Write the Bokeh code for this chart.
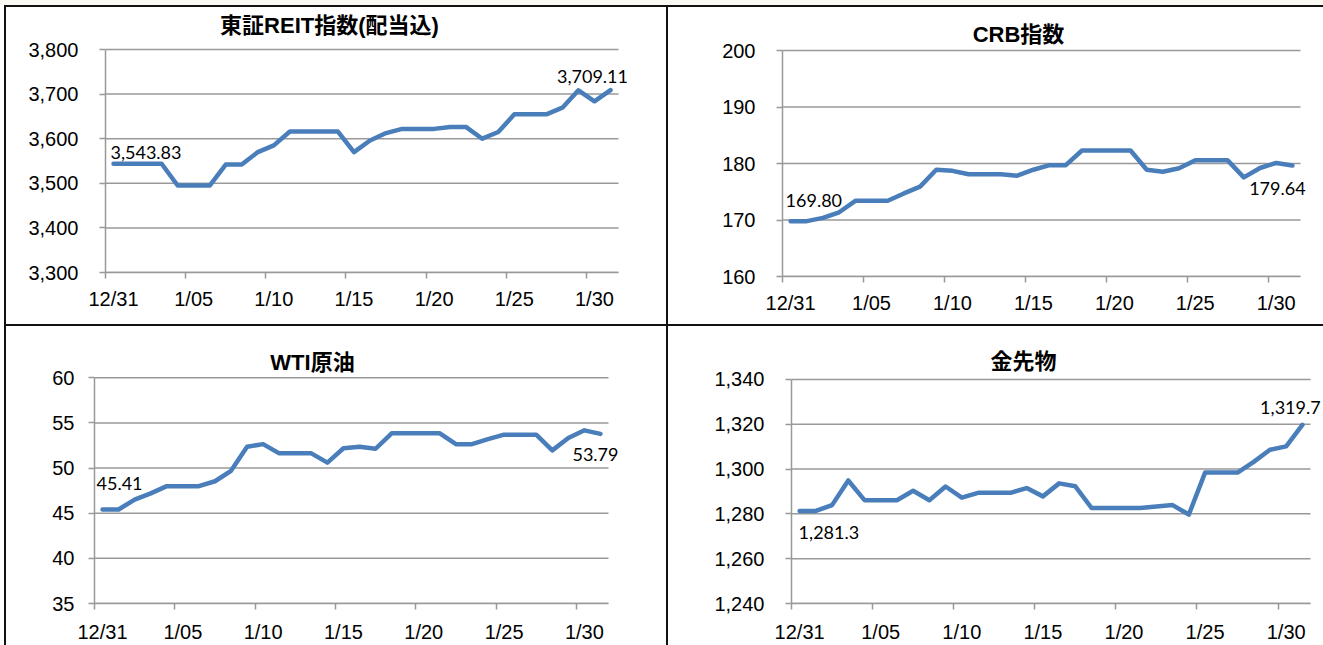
from bokeh.plotting import figure
from bokeh.models import Range1d, FixedTicker, NumeralTickFormatter, Label, Spacer
from bokeh.layouts import row, column
from bokeh.embed import file_html
from bokeh.resources import INLINE

# ---------------- data ----------------
dates = ["12/31", "1/01", "1/02", "1/03", "1/04", "1/05", "1/06", "1/07", "1/08", "1/09",
         "1/10", "1/11", "1/12", "1/13", "1/14", "1/15", "1/16", "1/17", "1/18", "1/19",
         "1/20", "1/21", "1/22", "1/23", "1/24", "1/25", "1/26", "1/27", "1/28", "1/29",
         "1/30", "1/31"]
x_tick_labels = ["12/31", "1/05", "1/10", "1/15", "1/20", "1/25", "1/30"]

reit = [3543.83, 3543.83, 3543.83, 3543.83, 3495.0, 3495.0, 3495.0, 3542.0, 3542.0, 3570.0,
        3585.0, 3616.0, 3616.0, 3616.0, 3616.0, 3570.0, 3596.0, 3612.6, 3622.0, 3622.0,
        3622.0, 3626.0, 3626.0, 3600.0, 3615.0, 3654.6, 3654.6, 3654.6, 3669.5, 3708.5,
        3683.8, 3709.11]
crb = [169.80, 169.80, 170.37, 171.37, 173.4, 173.4, 173.4, 174.7, 175.9, 178.9,
       178.7, 178.1, 178.1, 178.1, 177.85, 178.9, 179.7, 179.7, 182.3, 182.3,
       182.3, 182.3, 178.9, 178.55, 179.15, 180.56, 180.56, 180.56, 177.55, 179.2,
       180.1, 179.64]
wti = [45.41, 45.41, 46.5, 47.2, 48.0, 48.0, 48.0, 48.54, 49.7, 52.36,
       52.65, 51.63, 51.63, 51.63, 50.6, 52.2, 52.36, 52.14, 53.85, 53.85,
       53.85, 53.85, 52.65, 52.65, 53.2, 53.7, 53.7, 53.7, 51.96, 53.34,
       54.18, 53.79]
gold = [1281.3, 1281.3, 1283.9, 1294.9, 1286.1, 1286.1, 1286.1, 1290.3, 1286.1, 1292.2,
        1287.2, 1289.4, 1289.4, 1289.4, 1291.5, 1287.8, 1293.6, 1292.3, 1282.6, 1282.6,
        1282.6, 1282.6, 1283.3, 1283.9, 1279.7, 1298.4, 1298.4, 1298.4, 1303.2, 1308.6,
        1310.1, 1319.7]

reit_yticks = [3300, 3400, 3500, 3600, 3700, 3800]
crb_yticks = [160, 170, 180, 190, 200]
wti_yticks = [35, 40, 45, 50, 55, 60]
gold_yticks = [1240, 1260, 1280, 1300, 1320, 1340]

titles = ["東証REIT指数(配当込)", "CRB指数", "WTI原油", "金先物"]
first_labels = ["3,543.83", "169.80", "45.41", "1,281.3"]
last_labels = ["3,709.11", "179.64", "53.79", "1,319.7"]

# ---------------- styling ----------------
LINE = "#4a7ebb"
GRID = "#999999"
TICK_FONT = "Liberation Sans"
TITLE_FONT = "Liberation Sans, Noto Sans CJK JP"
LABEL_FONT = "Lato"

xs = list(range(len(dates)))
tick_pos = [dates.index(t) for t in x_tick_labels]
edge_pos = [t - 0.5 for t in tick_pos]
x_lo = xs[0] - 0.5
x_hi = xs[-1] + 0.5


def make_panel(title, vals, yticks, fmt, w, h, borders, title_pos, ystandoff, xstandoff,
               first_lab, last_lab, first_off, last_off):
    bl, br, bt, bb = borders
    # the frame runs on to the right edge so that the end labels are not cut;
    # the plotted span keeps the reference's width
    frame_w0 = w - bl - br
    frame_w1 = w - bl - 2
    x_end = x_lo + (x_hi - x_lo) * frame_w1 / frame_w0
    frame_h0 = h - bt - bb
    span = yticks[-1] - yticks[0]
    top_border = 2
    y_top = yticks[-1] + span / frame_h0 * (bt - top_border)
    p = figure(width=w, height=h, x_range=Range1d(x_lo, x_end),
               y_range=Range1d(yticks[0], y_top), output_backend="svg",
               toolbar_location=None, min_border_left=bl, min_border_right=2,
               min_border_top=top_border, min_border_bottom=bb)
    p.outline_line_color = None
    p.background_fill_color = "white"
    p.border_fill_color = "white"

    # title drawn inside the upward-extended frame, at an exact place:
    # ta = title centre from frame left, tb = title centre above frame bottom (px)
    ta, tb = title_pos
    p.add_layout(Label(x=ta, y=tb, x_units="screen", y_units="screen", text=title,
                       text_align="center", text_baseline="middle",
                       text_font=TITLE_FONT, text_font_size="22px",
                       text_font_style="bold", text_color="black"))

    p.xgrid.grid_line_color = None
    p.ygrid.grid_line_color = None

    # horizontal gridlines over the plotted span only
    n = len(yticks)
    p.segment(x0=[x_lo] * n, y0=yticks, x1=[x_hi] * n, y1=yticks,
              line_color=GRID, line_width=1.5)

    xa = p.xaxis[0]
    xa.bounds = (x_lo, x_hi)
    xa.ticker = FixedTicker(ticks=tick_pos, minor_ticks=edge_pos)
    xa.major_label_overrides = {tp: lab for tp, lab in zip(tick_pos, x_tick_labels)}
    xa.major_tick_out = 0
    xa.major_tick_in = 0
    xa.minor_tick_out = 6
    xa.minor_tick_in = 0
    xa.minor_tick_line_color = GRID
    xa.minor_tick_line_width = 1.5
    xa.axis_line_color = GRID
    xa.axis_line_width = 1.5
    xa.major_label_standoff = xstandoff
    xa.major_label_text_font = TICK_FONT
    xa.major_label_text_font_size = "20px"
    xa.major_label_text_color = "black"

    ya = p.yaxis[0]
    ya.bounds = (yticks[0], yticks[-1])
    ya.ticker = FixedTicker(ticks=yticks)
    if fmt:
        ya.formatter = NumeralTickFormatter(format=fmt)
    ya.major_tick_out = 6
    ya.major_tick_in = 0
    ya.minor_tick_line_color = None
    ya.major_tick_line_color = GRID
    ya.major_tick_line_width = 1.5
    ya.axis_line_color = GRID
    ya.axis_line_width = 1.5
    ya.major_label_standoff = ystandoff
    ya.major_label_text_font = TICK_FONT
    ya.major_label_text_font_size = "20px"
    ya.major_label_text_color = "black"

    p.line(xs, vals, line_color=LINE, line_width=4.5, line_join="round", line_cap="round")

    fa, fx, fy = first_off
    la, lx, ly = last_off
    p.add_layout(Label(x=xs[0], y=vals[0], text=first_lab, x_offset=fx, y_offset=fy,
                       text_align=fa, text_baseline="middle", text_font=LABEL_FONT,
                       text_font_size="18px", text_color="black"))
    p.add_layout(Label(x=xs[-1], y=vals[-1], text=last_lab, x_offset=lx, y_offset=ly,
                       text_align=la, text_baseline="middle", text_font=LABEL_FONT,
                       text_font_size="18px", text_color="black"))
    return p


# title centres: x from frame left, y above frame bottom
p1 = make_panel(titles[0], reit, reit_yticks, "0,0", 660, 317, (99, 48, 42, 52),
                (224, 247), 21, 9,
                first_labels[0], last_labels[0], ("left", -3, 11), ("center", -18, 14))
p2 = make_panel(titles[1], crb, crb_yticks, None, 655, 317, (114, 23, 43, 48),
                (236, 242), 21, 9,
                first_labels[1], last_labels[1], ("left", -5, 21), ("center", -15, -23))
p3 = make_panel(titles[2], wti, wti_yticks, None, 660, 319, (88, 58, 52, 38),
                (218, 241), 14, 11,
                first_labels[2], last_labels[2], ("left", -6, 26), ("center", -5, -21))
p4 = make_panel(titles[3], gold, gold_yticks, "0,0", 655, 319, (123, 13, 54, 36),
                (232, 242), 21, 11,
                first_labels[3], last_labels[3], ("left", -1, -22), ("center", -12, 17))


def bar(w, h, color):
    return Spacer(width=w, height=h, styles={"background-color": color})


layout = column(
    bar(1323, 5, "#fbfaf2"),
    row(bar(4, 640, "white"), bar(2, 640, "#111111"),
        column(bar(1317, 2, "#111111"),
               row(column(p1), bar(2, 317, "#111111"), column(p2)),
               bar(1317, 2, "#111111"),
               row(column(p3), bar(2, 319, "#111111"), column(p4)))),
)

open("out.html", "w").write(file_html(layout, INLINE))
